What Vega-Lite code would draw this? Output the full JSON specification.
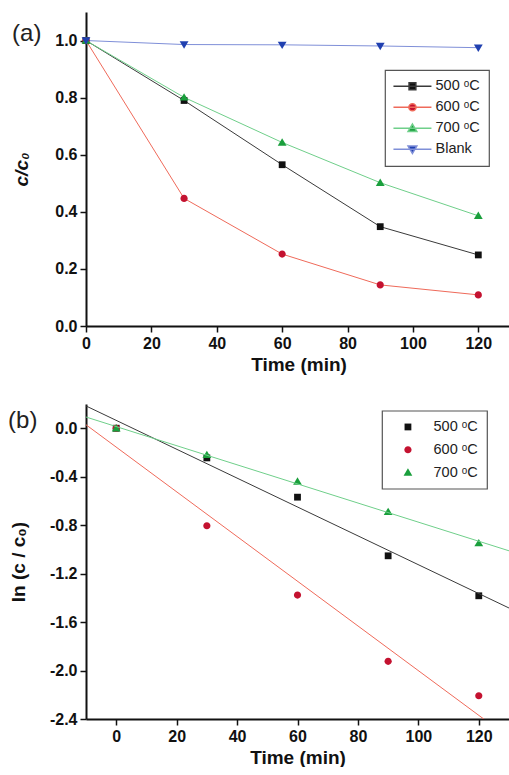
{
  "$schema": "https://vega.github.io/schema/vega-lite/v6.json",
  "padding": {"left": 8, "top": 12, "right": 0, "bottom": 0},
  "background": "white",
  "spacing": 30,
  "config": {
    "view": {"stroke": null},
    "font": "Liberation Sans",
    "axis": {
      "domainColor": "#111", "domainWidth": 2, "tickColor": "#111", "tickWidth": 1.5,
      "labelFont": "Liberation Sans", "labelFontSize": 16, "labelFontWeight": "bold", "labelColor": "#111",
      "titleFont": "Liberation Sans", "titleFontSize": 19, "titleFontWeight": "bold", "titleColor": "#111",
      "grid": false, "labelOverlap": false, "labelFlush": false, "labelPadding": 3
    },
    "legend": {
      "labelFont": "Liberation Sans", "labelFontSize": 14.5, "labelColor": "#222",
      "fillColor": "white", "strokeColor": "#555", "strokeWidth": 1.2
    }
  },
  "datasets": {
    "a": [
      {"t": 0, "v": 1.0, "s": "500 ᵒC"}, {"t": 30, "v": 0.79, "s": "500 ᵒC"}, {"t": 60, "v": 0.565, "s": "500 ᵒC"}, {"t": 90, "v": 0.348, "s": "500 ᵒC"}, {"t": 120, "v": 0.249, "s": "500 ᵒC"},
      {"t": 0, "v": 1.0, "s": "600 ᵒC"}, {"t": 30, "v": 0.447, "s": "600 ᵒC"}, {"t": 60, "v": 0.252, "s": "600 ᵒC"}, {"t": 90, "v": 0.144, "s": "600 ᵒC"}, {"t": 120, "v": 0.109, "s": "600 ᵒC"},
      {"t": 0, "v": 1.0, "s": "700 ᵒC"}, {"t": 30, "v": 0.801, "s": "700 ᵒC"}, {"t": 60, "v": 0.643, "s": "700 ᵒC"}, {"t": 90, "v": 0.502, "s": "700 ᵒC"}, {"t": 120, "v": 0.386, "s": "700 ᵒC"},
      {"t": 0, "v": 1.0, "s": "Blank"}, {"t": 30, "v": 0.986, "s": "Blank"}, {"t": 60, "v": 0.985, "s": "Blank"}, {"t": 90, "v": 0.981, "s": "Blank"}, {"t": 120, "v": 0.975, "s": "Blank"}
    ],
    "b": [
      {"t": 0, "v": 0.0, "s": "500 ᵒC"}, {"t": 30, "v": -0.245, "s": "500 ᵒC"}, {"t": 60, "v": -0.569, "s": "500 ᵒC"}, {"t": 90, "v": -1.053, "s": "500 ᵒC"}, {"t": 120, "v": -1.383, "s": "500 ᵒC"},
      {"t": 0, "v": 0.0, "s": "600 ᵒC"}, {"t": 30, "v": -0.805, "s": "600 ᵒC"}, {"t": 60, "v": -1.377, "s": "600 ᵒC"}, {"t": 90, "v": -1.924, "s": "600 ᵒC"}, {"t": 120, "v": -2.208, "s": "600 ᵒC"},
      {"t": 0, "v": 0.0, "s": "700 ᵒC"}, {"t": 30, "v": -0.22, "s": "700 ᵒC"}, {"t": 60, "v": -0.44, "s": "700 ᵒC"}, {"t": 90, "v": -0.69, "s": "700 ᵒC"}, {"t": 120, "v": -0.948, "s": "700 ᵒC"}
    ],
    "labA": [{"t": -22.6, "v": 1.0, "txt": "(a)"}],
    "labB": [{"t": -35.8, "v": 0.0, "txt": "(b)"}]
  },
  "vconcat": [
    {
      "width": 425,
      "height": 314,
      "resolve": {"scale": {"fill": "independent", "shape": "independent", "stroke": "independent"}},
      "layer": [
        {
          "data": {"name": "a"},
          "mark": {"type": "line", "strokeWidth": 1, "clip": true},
          "encoding": {
            "x": {"field": "t", "type": "quantitative", "scale": {"domain": [0, 130], "nice": false, "zero": false},
              "axis": {"title": "Time (min)", "values": [0, 10, 20, 30, 40, 50, 60, 70, 80, 90, 100, 110, 120],
                "labelExpr": "datum.value % 20 === 0 ? format(datum.value, 'd') : ''",
                "tickSize": {"condition": {"test": "datum.value % 20 !== 0", "value": 3.5}, "value": 6},
                "titlePadding": 4}},
            "y": {"field": "v", "type": "quantitative", "scale": {"domain": [0, 1.1], "nice": false, "zero": false},
              "axis": {"title": "c/c₀", "titleFontStyle": "italic", "values": [0, 0.1, 0.2, 0.3, 0.4, 0.5, 0.6, 0.7, 0.8, 0.9, 1.0],
                "labelExpr": "round(datum.value*10) % 2 === 0 ? format(datum.value, '.1f') : ''",
                "tickSize": {"condition": {"test": "round(datum.value*10) % 2 !== 0", "value": 3.5}, "value": 6},
                "titlePadding": 23}},
            "color": {"field": "s", "type": "nominal",
              "scale": {"domain": ["500 ᵒC", "600 ᵒC", "700 ᵒC", "Blank"], "range": ["#3a3a3a", "#ef6a5a", "#6fcf8a", "#7f8fd8"]},
              "legend": null}
          }
        },
        {
          "data": {"name": "a"},
          "mark": {"type": "point", "filled": true, "opacity": 1, "size": 64, "strokeWidth": 0},
          "encoding": {
            "x": {"field": "t", "type": "quantitative"},
            "y": {"field": "v", "type": "quantitative"},
            "fill": {"field": "s", "type": "nominal",
              "scale": {"domain": ["500 ᵒC", "600 ᵒC", "700 ᵒC", "Blank"], "range": ["#111111", "#c41230", "#1a9f3c", "#2040b0"]},
              "legend": null},
            "shape": {"field": "s", "type": "nominal",
              "scale": {"domain": ["500 ᵒC", "600 ᵒC", "700 ᵒC", "Blank"],
                "range": ["M-0.85,-0.85H0.85V0.85H-0.85Z", "M-0.9,0A0.9,0.9,0,1,1,0.9,0A0.9,0.9,0,1,1,-0.9,0Z", "M0,-1.05L1.1,0.8H-1.1Z", "M0,1.05L1.1,-0.8H-1.1Z"]},
              "legend": null}
          }
        },
        {
          "data": {"name": "a"},
          "transform": [{"filter": "false"}],
          "mark": {"type": "point", "filled": true, "opacity": 1, "size": 64, "strokeWidth": 1},
          "encoding": {
            "x": {"field": "t", "type": "quantitative"},
            "y": {"field": "v", "type": "quantitative"},
            "fill": {"field": "s", "type": "nominal",
              "scale": {"domain": ["500 ᵒC", "600 ᵒC", "700 ᵒC", "Blank"], "range": ["#111111", "#c41230", "#1a9f3c", "#2040b0"]},
              "legend": {"title": null, "orient": "none", "legendX": 299, "legendY": 58, "padding": 9, "rowPadding": 6,
                "symbolSize": 64, "symbolOffset": 11.2, "labelOffset": 15.8, "labelExpr": "datum.label + '\u00a0\u00a0'"}},
            "stroke": {"field": "s", "type": "nominal",
              "scale": {"domain": ["500 ᵒC", "600 ᵒC", "700 ᵒC", "Blank"], "range": ["#3a3a3a", "#ef6a5a", "#6fcf8a", "#7f8fd8"]},
              "legend": {"title": null, "orient": "none", "legendX": 299, "legendY": 58, "padding": 9, "rowPadding": 6,
                "symbolSize": 64, "symbolOffset": 11.2, "labelOffset": 15.8, "labelExpr": "datum.label + '\u00a0\u00a0'"}},
            "shape": {"field": "s", "type": "nominal",
              "scale": {"domain": ["500 ᵒC", "600 ᵒC", "700 ᵒC", "Blank"],
                "range": ["M-4.75,0H4.75M-0.85,-0.85H0.85V0.85H-0.85Z", "M-4.75,0H4.75M-0.9,0A0.9,0.9,0,1,1,0.9,0A0.9,0.9,0,1,1,-0.9,0Z", "M-4.75,0H4.75M0,-1.05L1.1,0.8H-1.1Z", "M-4.75,0H4.75M0,1.05L1.1,-0.8H-1.1Z"]},
              "legend": {"title": null, "orient": "none", "legendX": 299, "legendY": 58, "padding": 9, "rowPadding": 6,
                "symbolSize": 64, "symbolOffset": 11.2, "labelOffset": 15.8, "labelExpr": "datum.label + '\u00a0\u00a0'"}}
          }
        },
        {
          "data": {"name": "labA"},
          "mark": {"type": "text", "align": "left", "baseline": "alphabetic", "fontSize": 24, "font": "Liberation Sans", "color": "#222", "clip": false},
          "encoding": {
            "x": {"field": "t", "type": "quantitative"},
            "y": {"field": "v", "type": "quantitative"},
            "text": {"field": "txt"}
          }
        }
      ]
    },
    {
      "width": 423,
      "height": 315,
      "layer": [
        {
          "data": {"name": "b"},
          "mark": {"type": "point", "filled": true, "opacity": 1, "size": 64},
          "encoding": {
            "x": {"field": "t", "type": "quantitative", "scale": {"domain": [-10, 130], "nice": false, "zero": false},
              "axis": {"title": "Time (min)", "values": [0, 20, 40, 60, 80, 100, 120], "format": "d", "tickSize": 6,
                "titlePadding": 4}},
            "y": {"field": "v", "type": "quantitative", "scale": {"domain": [-2.4, 0.2], "nice": false, "zero": false},
              "axis": {"title": "ln (c / c₀)", "values": [-2.4, -2.2, -2.0, -1.8, -1.6, -1.4, -1.2, -1.0, -0.8, -0.6, -0.4, -0.2, 0.0, 0.2],
                "labelExpr": "round(datum.value*10) % 4 === 0 ? (datum.value < -0.001 ? '-' : '') + format(abs(datum.value), '.1f') : ''",
                "tickSize": {"condition": {"test": "round(datum.value*10) % 4 !== 0", "value": 3.5}, "value": 6},
                "titlePadding": 21}},
            "fill": {"field": "s", "type": "nominal",
              "scale": {"domain": ["500 ᵒC", "600 ᵒC", "700 ᵒC"], "range": ["#111111", "#c41230", "#1a9f3c"]},
              "legend": {"title": null, "orient": "none", "legendX": 296, "legendY": 398.7, "padding": 9, "rowPadding": 7.8,
                "symbolSize": 64, "symbolOffset": 9.7, "labelOffset": 18.3, "labelExpr": "datum.label + '\u00a0\u00a0\u00a0\u00a0\u00a0\u00a0'"}},
            "shape": {"field": "s", "type": "nominal",
              "scale": {"domain": ["500 ᵒC", "600 ᵒC", "700 ᵒC"],
                "range": ["M-0.85,-0.85H0.85V0.85H-0.85Z", "M-0.9,0A0.9,0.9,0,1,1,0.9,0A0.9,0.9,0,1,1,-0.9,0Z", "M0,-1.05L1.1,0.8H-1.1Z"]},
              "legend": {"title": null, "orient": "none", "legendX": 296, "legendY": 398.7, "padding": 9, "rowPadding": 7.8,
                "symbolSize": 64, "symbolOffset": 9.7, "labelOffset": 18.3, "labelExpr": "datum.label + '\u00a0\u00a0\u00a0\u00a0\u00a0\u00a0'"}}
          }
        },
        {
          "data": {"name": "b"},
          "transform": [{"regression": "v", "on": "t", "groupby": ["s"], "extent": [-10, 130]}],
          "mark": {"type": "line", "strokeWidth": 1, "clip": true},
          "encoding": {
            "x": {"field": "t", "type": "quantitative"},
            "y": {"field": "v", "type": "quantitative"},
            "color": {"field": "s", "type": "nominal",
              "scale": {"domain": ["500 ᵒC", "600 ᵒC", "700 ᵒC"], "range": ["#333333", "#f07a68", "#6acb85"]},
              "legend": null}
          }
        },
        {
          "data": {"name": "labB"},
          "mark": {"type": "text", "align": "left", "baseline": "alphabetic", "fontSize": 24, "font": "Liberation Sans", "color": "#222", "clip": false},
          "encoding": {
            "x": {"field": "t", "type": "quantitative"},
            "y": {"field": "v", "type": "quantitative"},
            "text": {"field": "txt"}
          }
        }
      ]
    }
  ]
}
